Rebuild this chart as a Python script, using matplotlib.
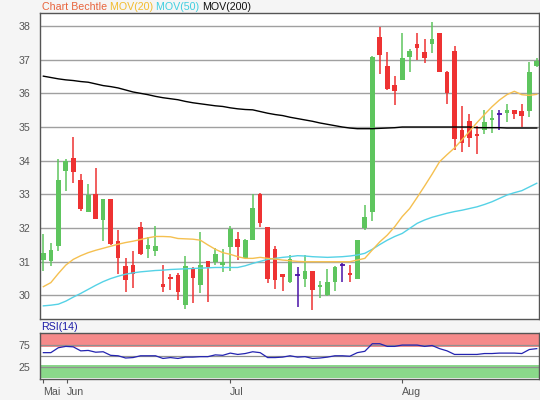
import matplotlib
matplotlib.use("Agg")
import matplotlib.pyplot as plt
import numpy as np

plt.rcParams['font.family'] = ['Liberation Sans', 'DejaVu Sans']

opens = [31.04, 31.02, 31.46, 33.69, 34.07, 33.44, 32.48, 33.00, 32.24, 32.85,
         31.61, 30.87, 30.90, 32.02, 31.37, 31.33, 30.34, 30.55, 30.60, 29.73,
         30.80, 30.31, 31.02, 31.00, 30.90, 31.43, 31.69, 31.10, 31.66, 33.01,
         32.02, 31.37, 30.65, 30.41, 30.60, 30.48, 30.72, 30.26, 30.01, 30.41,
         30.90, 30.68, 30.50, 32.01, 32.49, 37.68, 36.80, 36.26, 36.41, 37.09,
         37.47, 37.22, 37.47, 37.78, 36.63, 37.25, 34.90, 35.18, 34.78, 34.90,
         35.20, 35.40, 35.42, 35.51, 35.48, 35.47, 36.81]
highs = [31.81, 31.56, 34.04, 34.04, 34.71, 33.60, 33.31, 33.78, 32.86, 32.86,
         31.94, 31.12, 31.32, 32.18, 31.72, 32.06, 30.90, 30.65, 30.67, 31.17,
         30.85, 31.89, 31.02, 31.40, 31.37, 32.06, 31.89, 31.69, 33.00, 33.03,
         32.02, 31.46, 30.65, 31.20, 30.85, 31.20, 30.72, 30.44, 30.77, 30.87,
         30.97, 30.90, 31.64, 32.68, 37.12, 37.98, 37.22, 36.50, 37.80, 37.32,
         37.78, 37.60, 38.11, 37.78, 36.65, 37.42, 35.61, 35.38, 35.02, 35.51,
         35.51, 35.51, 35.69, 35.51, 35.69, 36.93, 37.05]
lows = [30.72, 30.87, 31.32, 33.10, 33.33, 32.52, 32.48, 32.26, 31.62, 31.51,
        30.65, 30.11, 30.23, 31.19, 31.12, 31.17, 30.09, 30.16, 29.86, 29.61,
        29.78, 30.08, 29.81, 30.90, 30.70, 30.73, 31.05, 31.10, 31.66, 32.02,
        30.37, 30.20, 30.12, 30.38, 29.66, 30.26, 29.58, 29.91, 29.99, 30.14,
        30.41, 30.41, 30.50, 31.94, 32.21, 36.58, 36.10, 35.64, 36.41, 36.63,
        36.99, 36.89, 37.19, 36.63, 35.69, 34.31, 34.26, 34.40, 34.21, 34.80,
        34.82, 34.90, 35.15, 35.25, 35.00, 35.30, 36.78]
closes = [31.25, 31.34, 33.42, 33.98, 33.65, 32.58, 32.99, 32.26, 32.86, 31.52,
          31.12, 30.46, 30.65, 31.23, 31.49, 31.47, 30.26, 30.50, 30.09, 30.87,
          30.53, 30.90, 30.83, 31.23, 31.00, 31.96, 31.43, 31.64, 32.61, 32.16,
          30.48, 30.45, 30.55, 31.07, 30.60, 30.72, 30.16, 30.30, 30.40, 30.85,
          30.90, 30.60, 31.64, 32.32, 37.09, 37.15, 36.13, 36.08, 37.05, 37.27,
          37.34, 37.04, 37.61, 36.63, 36.01, 34.65, 34.53, 34.66, 34.72, 35.15,
          35.28, 35.40, 35.51, 35.38, 35.32, 36.63, 36.95]

mov20 = [30.26, 30.38, 30.65, 30.90, 31.07, 31.18, 31.27, 31.34, 31.40, 31.46,
         31.52, 31.57, 31.61, 31.66, 31.71, 31.75, 31.75, 31.74, 31.69, 31.68,
         31.67, 31.64, 31.50, 31.37, 31.27, 31.22, 31.15, 31.10, 31.10, 31.13,
         31.10, 31.08, 31.05, 31.03, 31.01, 31.00, 31.00, 31.00, 31.00, 31.00,
         31.00, 31.00, 31.05, 31.10, 31.35, 31.59, 31.79, 32.04, 32.34, 32.58,
         32.91, 33.25, 33.60, 33.97, 34.18, 34.38, 34.62, 34.87, 35.13, 35.37,
         35.60, 35.80, 35.96, 36.06, 35.96, 35.94, 35.97]
mov50 = [29.69, 29.71, 29.74, 29.83, 29.95, 30.06, 30.18, 30.30, 30.41, 30.50,
         30.57, 30.63, 30.67, 30.70, 30.72, 30.74, 30.75, 30.77, 30.78, 30.79,
         30.80, 30.81, 30.82, 30.83, 30.83, 30.83, 30.83, 30.88, 30.95, 31.01,
         31.07, 31.10, 31.13, 31.15, 31.18, 31.17, 31.15, 31.14, 31.13, 31.14,
         31.15, 31.17, 31.20, 31.25, 31.37, 31.51, 31.64, 31.75, 31.84, 31.99,
         32.14, 32.24, 32.32, 32.38, 32.44, 32.49, 32.53, 32.58, 32.63, 32.70,
         32.78, 32.88, 32.98, 33.05, 33.11, 33.22, 33.33]
mov200 = [36.51, 36.47, 36.43, 36.40, 36.38, 36.35, 36.33, 36.28, 36.23, 36.20,
          36.16, 36.10, 36.04, 36.00, 35.96, 35.91, 35.87, 35.84, 35.81, 35.76,
          35.72, 35.69, 35.66, 35.63, 35.61, 35.57, 35.54, 35.52, 35.51, 35.46,
          35.41, 35.37, 35.34, 35.29, 35.25, 35.21, 35.17, 35.12, 35.08, 35.04,
          35.00, 34.97, 34.95, 34.95, 34.95, 34.96, 34.97, 34.98, 35.00, 35.00,
          35.00, 35.00, 35.00, 35.00, 35.00, 35.00, 35.00, 35.00, 34.98, 34.98,
          34.98, 34.98, 34.97, 34.97, 34.97, 34.97, 34.97]
rsi = [57, 57, 68, 71, 70, 61, 62, 58, 59, 51, 50, 45, 46, 50, 50, 50, 44, 46,
       44, 47, 47, 48, 48, 52, 51, 56, 53, 55, 59, 57, 46, 46, 47, 50, 47, 48,
       44, 45, 47, 50, 50, 49, 57, 60, 77, 77, 71, 71, 74, 74, 74, 71, 73, 66,
       61, 53, 53, 53, 53, 55, 55, 56, 56, 56, 55, 64, 66]

month_labels = ['Mai', 'Jun', 'Jul', 'Aug']
month_pos = [0, 3.2, 25.0, 47.95]
price_ticks = [30, 31, 32, 33, 34, 35, 36, 37, 38]
rsi_ticks = [25, 75]

GREEN = '#5ec55e'
RED = '#ee3232'
DOJI = '#4a12a8'
TXT = '#555555'
GRID = '#a0a0a0'
SPINE = '#555555'

fig = plt.figure(figsize=(5.4, 4.0), dpi=100, facecolor='#f5f5f5')
W, H = 540, 400
left, right = 40, 539
ax = fig.add_axes([left / W, 1 - 319 / H, (right - left) / W, (319 - 12.5) / H])
ax2 = fig.add_axes([left / W, 1 - 379 / H, (right - left) / W, (379 - 333) / H])

x = np.arange(len(opens))
o = np.array(opens); c = np.array(closes); h = np.array(highs); l = np.array(lows)
cols = np.where(c > o, GREEN, np.where(c < o, RED, DOJI))

for a in (ax, ax2):
    a.set_facecolor('white')
    for s in a.spines.values():
        s.set_color(SPINE)
        s.set_linewidth(1.0)

for yv in price_ticks:
    ax.axhline(yv, color=GRID, lw=1.0, zorder=1)

ax.vlines(x, l, h, colors=cols, lw=1.1, zorder=3)
bw = 0.62
body_bottom = np.minimum(o, c)
body_h = np.abs(c - o)
mask = body_h > 0
ax.bar(x[mask], body_h[mask], bottom=body_bottom[mask], width=bw,
       color=cols[mask], zorder=4, linewidth=0)
dj = ~mask
ax.hlines(o[dj], x[dj] - bw / 2, x[dj] + bw / 2, colors=DOJI, lw=1.3, zorder=4)

ax.plot(x, mov200, color='black', lw=1.0, zorder=5)
ax.plot(x, mov50, color='#55d2e6', lw=1.0, zorder=5)
ax.plot(x, mov20, color='#f5c050', lw=1.0, zorder=5)

ax.set_xlim(-0.45, 66.3)
ax.set_ylim(29.3, 38.4)
ax.set_yticks(price_ticks)
ax.set_yticklabels([str(t) for t in price_ticks])
ax.tick_params(axis='y', length=0, pad=7, labelsize=7.7, labelcolor=TXT)
ax.set_xticks([])

# RSI panel
ax2.axhspan(70, 100, color='#f58a8a', zorder=1, lw=0)
ax2.axhspan(0, 30, color='#8ad88a', zorder=1, lw=0)
for yv in (25, 50, 75):
    ax2.axhline(yv, color='#909090', lw=0.9, zorder=2)
ax2.plot(x, rsi, color='#2424b0', lw=0.9, zorder=3)
ax2.set_xlim(-0.45, 66.3)
ax2.set_ylim(-2, 101)
ax2.set_yticks(rsi_ticks)
ax2.set_yticklabels([str(t) for t in rsi_ticks])
ax2.tick_params(axis='y', length=0, pad=7, labelsize=7.7, labelcolor=TXT)
ax2.set_xticks(month_pos)
ax2.set_xticklabels(month_labels, ha='left')
ax2.tick_params(axis='x', length=3, width=0.8, color=SPINE, pad=3,
                labelsize=7.7, labelcolor=TXT)

# Title pieces
fig.canvas.draw()
r = fig.canvas.get_renderer()
pieces = [('Chart Bechtle ', '#e8643c'), ('MOV(20) ', '#f2bc2e'),
          ('MOV(50) ', '#3fcfe0'), ('MOV(200)', '#111111')]
xp = 41.5
for txt, col in pieces:
    t = fig.text(xp / W, 1 - 10.5 / H, txt, color=col, fontsize=7.7,
                 va='baseline', ha='left')
    bb = t.get_window_extent(renderer=r)
    xp += bb.width

fig.text(41.5 / W, 1 - 330.5 / H, 'RSI(14)', color='#1c1ca8', fontsize=7.7,
         va='baseline', ha='left')

fig.savefig('out.png', dpi=100, facecolor=fig.get_facecolor())
